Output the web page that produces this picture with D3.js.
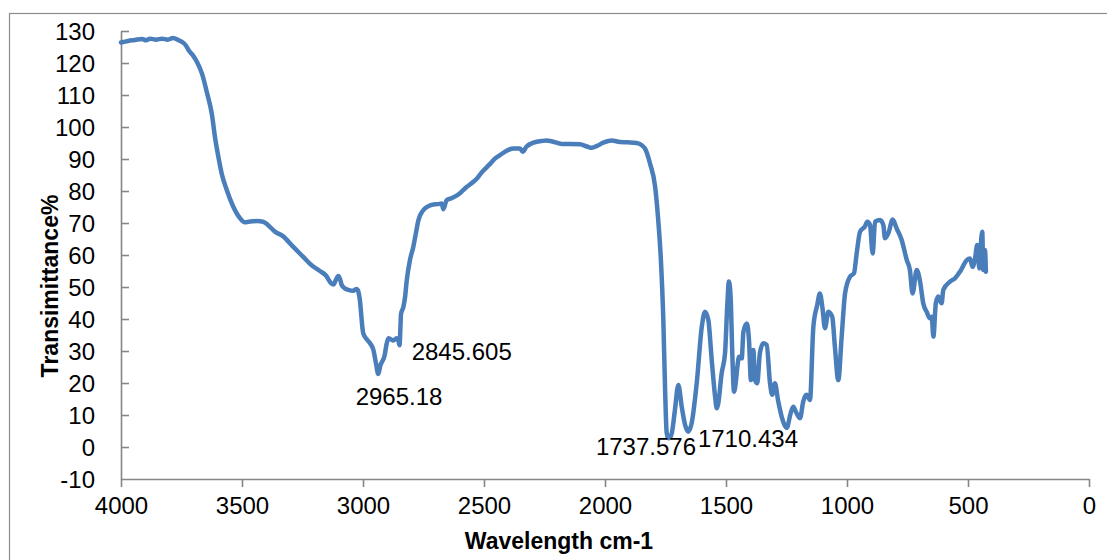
<!DOCTYPE html>
<html>
<head>
<meta charset="utf-8">
<script src="https://cdn.jsdelivr.net/npm/d3@7"></script>
<style>
  html, body { margin: 0; padding: 0; background: #ffffff; }
  svg { display: block; }
  text { font-family: "Liberation Sans", Arial, sans-serif; fill: #000; }
</style>
</head>
<body>
<svg id="chart" width="1107" height="560"></svg>
<script>
// ---- Data ----
const wavenumber = [
  4000, 3971, 3942, 3913, 3897, 3880, 3855, 3831, 3806, 3785, 3764, 3748, 3731, 3719, 3702, 3686,
  3665, 3645, 3624, 3612, 3598, 3584, 3563, 3536, 3508, 3488, 3467, 3438, 3413, 3393, 3364, 3331,
  3289, 3248, 3211, 3178, 3153, 3132, 3122, 3112, 3102, 3095, 3088, 3074, 3061, 3041, 3026, 3021,
  3014, 2999, 2983, 2971, 2957, 2946, 2937, 2928, 2921, 2911, 2903, 2895, 2884, 2875, 2861, 2853,
  2849, 2845, 2843, 2833, 2826, 2819, 2806, 2792, 2781, 2771, 2751, 2731, 2709, 2690, 2675, 2668,
  2654, 2632, 2606, 2587, 2571, 2554, 2530, 2512, 2489, 2471, 2455, 2434, 2406, 2379, 2351, 2340,
  2324, 2306, 2282, 2264, 2241, 2214, 2179, 2145, 2103, 2074, 2054, 2033, 2007, 1972, 1938, 1905,
  1869, 1848, 1835, 1814, 1793, 1780, 1769, 1759, 1752, 1745, 1738,
  1731, 1724, 1711, 1697, 1683, 1669, 1656, 1642, 1621, 1600, 1587, 1573, 1559, 1545, 1538, 1532,
  1518, 1504, 1495, 1488, 1481, 1474, 1467, 1460, 1453, 1446, 1435, 1428, 1414, 1405, 1397, 1387,
  1380, 1371, 1360, 1346, 1332, 1318, 1309, 1298, 1284, 1270, 1249, 1233, 1222, 1208, 1194, 1181,
  1167, 1153, 1139, 1123, 1112, 1102, 1091, 1077, 1061, 1050, 1036, 1022, 1008, 988, 971, 960,
  946, 926, 916, 905, 894, 884, 864, 850, 843, 829, 811, 795, 774, 753, 740, 729,
  712, 698, 685, 671, 657, 650, 643, 633, 623, 609, 602, 574, 554, 533, 505, 492,
  481, 471, 462, 453, 448, 441, 437, 430, 426
];
const transmittance = [
  126.4, 126.9, 127.2, 127.5, 127.1, 127.6, 127.3, 127.6, 127.3, 127.8, 127.2, 126.6, 125.4, 123.8, 122.3, 120.3,
  116.6, 110.8, 103.8, 97.0, 90.8, 85.5, 80.3, 75.1, 71.5, 70.2, 70.5, 70.6, 70.4, 69.4, 67.3, 65.9,
  62.6, 59.5, 56.7, 55.0, 53.6, 51.2, 50.8, 52.2, 53.4, 52.5, 50.6, 49.5, 49.1, 48.8, 49.4, 49.0,
  46.5, 35.5, 33.5, 32.4, 30.3, 26.0, 22.8, 25.5, 26.7, 28.5, 32.0, 34.0, 33.6, 33.3, 34.0, 33.0,
  31.8, 38.0, 41.5, 43.8, 47.0, 52.2, 58.4, 62.6, 67.0, 70.9, 74.0, 75.2, 75.8, 75.9, 76.1, 74.3,
  77.2, 77.8, 78.9, 80.2, 81.3, 82.3, 83.8, 85.6, 87.4, 88.8, 90.1, 91.2, 92.6, 93.3, 93.3, 92.3,
  93.9, 94.8, 95.4, 95.6, 95.8, 95.4, 94.7, 94.7, 94.6, 93.9, 93.5, 94.1, 95.1, 95.8, 95.3, 95.2,
  95.0, 94.3, 93.3, 88.6, 81.4, 70.9, 58.4, 39.7, 18.8, 4.3, 2.7,
  3.0, 4.3, 11.6, 19.4, 12.6, 6.9, 4.8, 7.4, 19.9, 37.6, 42.3, 39.7, 27.2, 15.7, 12.1, 13.6,
  23.0, 29.3, 43.8, 51.7, 47.0, 29.3, 17.3, 19.9, 25.1, 28.2, 27.7, 36.0, 38.6, 33.4, 20.9, 30.3,
  20.9, 19.9, 29.3, 32.4, 31.9, 19.9, 16.3, 19.9, 14.2, 9.5, 6.0, 10.5, 12.6, 10.5, 9.0, 14.2,
  16.3, 14.7, 37.6, 44.4, 48.0, 43.8, 37.1, 42.3, 40.7, 31.3, 20.9, 34.5, 48.0, 53.2, 54.3, 60.5,
  67.3, 68.9, 70.4, 69.4, 60.5, 70.4, 70.9, 69.4, 65.2, 66.8, 71.1, 68.3, 64.7, 58.4, 55.3, 48.0,
  55.3, 51.7, 44.9, 42.3, 40.2, 40.7, 34.5, 44.9, 47.0, 44.9, 49.1, 51.7, 52.7, 54.8, 58.4, 58.9,
  56.3, 58.9, 63.1, 55.8, 62.1, 67.3, 55.3, 61.6, 54.8
];
const xTicks = [4000, 3500, 3000, 2500, 2000, 1500, 1000, 500, 0];
const yTicks = [-10, 0, 10, 20, 30, 40, 50, 60, 70, 80, 90, 100, 110, 120, 130];
// peak annotations: label text, anchor wavenumber, anchor value (text baseline, data units)
const annoText = ["2965.18", "2845.605", "1737.576", "1710.434"];
const annoX    = [2851, 2799, 1624, 1616];
const annoY    = [13.1, 27.2, -2.5, 0.1];
const annoAnchor = ["middle", "start", "end", "start"];
const xTitle = "Wavelength cm-1";
const yTitle = "Transimittance%";

// ---- Layout ----
const svg = d3.select("#chart");
const plotL = 121, plotR = 1089, plotT = 31, plotB = 479;
const axisColor = "#868686";

// Outer chart border (extends beyond the frame at right/bottom)
svg.append("rect")
  .attr("x", 9.5).attr("y", 13.5)
  .attr("width", 1130).attr("height", 580)
  .attr("fill", "none").attr("stroke", "#8c8c8c").attr("stroke-width", 1.2);

const x = d3.scaleLinear().domain([4000, 0]).range([plotL, plotR]);
const y = d3.scaleLinear().domain([-10, 130]).range([plotB, plotT]);
const plainNum = d => String(d);

// Y axis (ticks pointing inward)
const yAxis = d3.axisLeft(y).tickValues(yTicks).tickSizeInner(-8).tickSizeOuter(0).tickPadding(26)
  .tickFormat(plainNum);
const gy = svg.append("g").attr("transform", `translate(${plotL},0)`).call(yAxis);
gy.select(".domain").attr("stroke", axisColor).attr("stroke-width", 1.6);
gy.selectAll(".tick line").attr("stroke", axisColor).attr("stroke-width", 1.6);
gy.selectAll(".tick text")
  .attr("font-size", 24).attr("font-family", "Liberation Sans, Arial, sans-serif")
  .attr("fill", "#000").attr("dy", "0.35em");
gy.selectAll(".tick").filter(d => d === -10).select("line").remove();

// X axis (ticks pointing outward)
const xAxis = d3.axisBottom(x).tickValues(xTicks).tickSizeInner(8).tickSizeOuter(0).tickPadding(8)
  .tickFormat(plainNum);
const gx = svg.append("g").attr("transform", `translate(0,${plotB})`).call(xAxis);
gx.select(".domain").attr("stroke", axisColor).attr("stroke-width", 1.6);
gx.selectAll(".tick line").attr("stroke", axisColor).attr("stroke-width", 1.6);
gx.selectAll(".tick text")
  .attr("font-size", 24).attr("font-family", "Liberation Sans, Arial, sans-serif")
  .attr("fill", "#000").attr("dy", "0.71em").attr("y", 18);

// Spectrum line
const pts = wavenumber.map((w, i) => [w, transmittance[i]]);
svg.append("path")
  .datum(pts)
  .attr("fill", "none")
  .attr("stroke", "#4a7ebb")
  .attr("stroke-width", 4.5)
  .attr("stroke-linejoin", "round")
  .attr("stroke-linecap", "round")
  .attr("d", d3.line().curve(d3.curveMonotoneX).x(d => x(d[0])).y(d => y(d[1])));

// Annotations
svg.append("g").selectAll("text")
  .data(annoText)
  .join("text")
  .attr("x", (d, i) => x(annoX[i]))
  .attr("y", (d, i) => y(annoY[i]))
  .attr("text-anchor", (d, i) => annoAnchor[i])
  .attr("font-size", 24)
  .text(d => d);

// Axis titles
svg.append("text")
  .attr("x", 559).attr("y", 549)
  .attr("text-anchor", "middle")
  .attr("font-size", 23).attr("font-weight", "bold")
  .text(xTitle);

svg.append("text")
  .attr("transform", "translate(58,286) rotate(-90)")
  .attr("text-anchor", "middle")
  .attr("font-size", 23).attr("font-weight", "bold")
  .text(yTitle);
</script>
</body>
</html>
